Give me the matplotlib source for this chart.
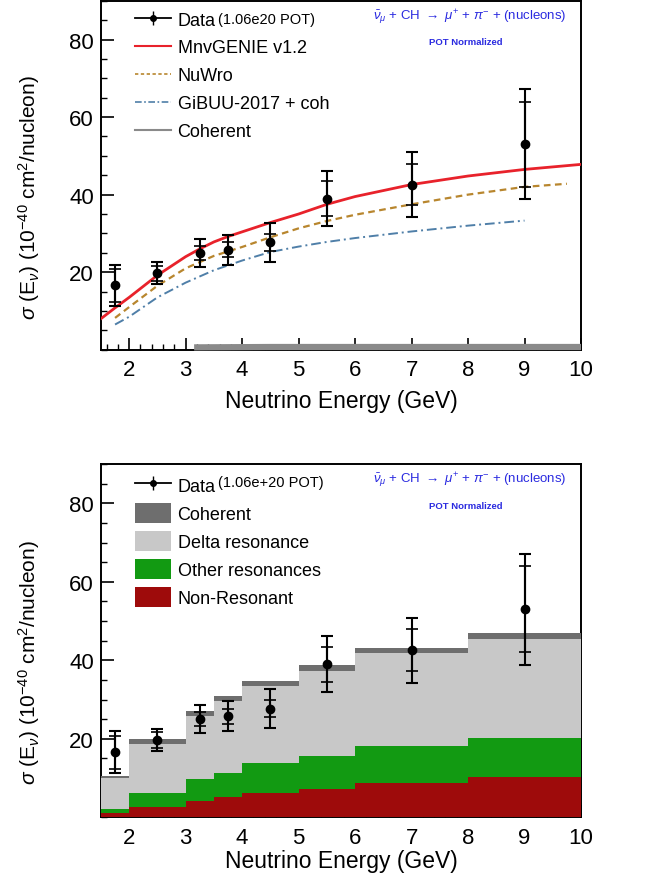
import numpy as np
import matplotlib
matplotlib.use('Agg')
import matplotlib.pyplot as plt
from matplotlib.lines import Line2D
from matplotlib.patches import Patch
from matplotlib.ticker import MultipleLocator

plt.rcParams['font.family'] = ['Liberation Sans', 'DejaVu Sans']
plt.rcParams['mathtext.fontset'] = 'custom'
plt.rcParams['mathtext.rm'] = 'Liberation Sans'
plt.rcParams['mathtext.it'] = 'Liberation Sans:italic'
plt.rcParams['mathtext.bf'] = 'Liberation Sans:bold'

# data points (both panels)
data_x = [1.75, 2.5, 3.25, 3.75, 4.5, 5.5, 7.0, 9.0]
data_y = [16.6, 19.7, 25.0, 25.8, 27.7, 39.0, 42.6, 53.0]
err_tot = [5.3, 2.8, 3.6, 3.9, 5.0, 7.2, 8.3, 14.2]
err_stat = [4.2, 2.0, 1.8, 1.9, 2.2, 4.5, 5.3, 11.0]

# model curves (top panel)
genie_x = [1.5, 1.75, 2.0, 2.5, 3.0, 3.25, 3.5, 3.75, 4.0, 4.5, 5.0, 5.5, 6.0, 7.0, 8.0, 9.0, 10.0]
genie_y = [8.0, 10.8, 13.5, 19.2, 24.0, 26.0, 27.8, 29.2, 30.4, 32.8, 35.0, 37.5, 39.5, 42.6, 44.8, 46.5, 47.8]
nuwro_x = [1.75, 2.0, 2.5, 3.0, 3.5, 4.0, 4.5, 5.0, 5.5, 6.0, 7.0, 8.0, 9.0, 9.75]
nuwro_y = [8.2, 11.0, 16.5, 21.0, 24.2, 26.5, 29.0, 31.3, 33.2, 34.8, 37.5, 40.0, 42.0, 42.8]
gibuu_x = [1.75, 2.0, 2.5, 3.0, 3.5, 4.0, 4.5, 5.0, 5.5, 6.0, 7.0, 8.0, 9.0]
gibuu_y = [6.5, 8.5, 13.5, 17.3, 20.5, 23.0, 25.2, 26.6, 27.8, 28.8, 30.5, 32.0, 33.3]
coh_x = [3.15, 4.5, 5.5, 7.0, 9.0, 10.0]
coh_y = [0.6, 0.7, 0.7, 0.7, 0.7, 0.7]

# stacked histogram (bottom panel)
edges = [1.5, 2, 3, 3.5, 4, 5, 6, 8, 10]
nonres = [1.0, 2.7, 4.2, 5.2, 6.3, 7.2, 8.7, 10.2]
other_res = [1.2, 3.6, 5.5, 6.0, 7.5, 8.5, 9.4, 10.0]
delta_res = [7.7, 12.3, 16.1, 18.4, 19.7, 21.6, 23.7, 25.3]
coherent = [0.7, 1.4, 1.2, 1.2, 1.3, 1.5, 1.4, 1.4]

c_genie = '#e8222b'
c_nuwro = '#b8862e'
c_gibuu = '#4f7fa8'
c_coh_line = '#8a8a8a'
c_coh = '#6e6e6e'
c_delta = '#c8c8c8'
c_other = '#129a12'
c_nonres = '#9e0b0b'
c_blue = '#2a2ae0'

title_txt = r'$\bar{\nu}_{\mu}$ + CH $\rightarrow$ $\mu^{+}$ + $\pi^{-}$ + (nucleons)'
ylab = r'$\sigma$ (E$_{\nu}$) (10$^{-40}$ cm$^{2}$/nucleon)'

fig = plt.figure(figsize=(6.47, 8.79), dpi=100)
ax1 = fig.add_axes([0.156, 0.601, 0.742, 0.397])
ax2 = fig.add_axes([0.156, 0.069, 0.742, 0.402])


def style_axis(ax, xpad):
    ax.set_xlim(1.5, 10)
    ax.set_ylim(0, 90)
    ax.yaxis.set_major_locator(MultipleLocator(20))
    ax.yaxis.set_minor_locator(MultipleLocator(5))
    ax.xaxis.set_major_locator(MultipleLocator(1))
    ax.xaxis.set_minor_locator(MultipleLocator(0.2))
    ax.tick_params(which='both', direction='in', top=False, right=False, labelsize=16)
    ax.tick_params(which='major', length=9, width=1.2)
    ax.tick_params(which='minor', length=4.5, width=1.0)
    ax.tick_params(axis='x', pad=7)
    ax.tick_params(axis='y', pad=5)
    ax.set_yticks([20, 40, 60, 80])
    for s in ax.spines.values():
        s.set_linewidth(1.4)
    ax.set_xlabel('Neutrino Energy (GeV)', fontsize=16.5, labelpad=xpad)
    ax.set_ylabel(ylab, fontsize=15)
    ax.yaxis.set_label_coords(-0.123, 0.44)


def draw_data(ax):
    ax.errorbar(data_x, data_y, yerr=err_tot, fmt='o', color='black', ms=6,
                capsize=4, elinewidth=1.5, capthick=1.5, zorder=6)
    ax.errorbar(data_x, data_y, yerr=err_stat, fmt='none', ecolor='black',
                capsize=4, elinewidth=1.5, capthick=1.2, zorder=6)


def add_texts(ax, pot):
    ax.text(0.243, 0.948, pot, transform=ax.transAxes, fontsize=10.5,
            va='center', ha='left')
    ax.text(0.97, 0.955, title_txt, transform=ax.transAxes, fontsize=9.5,
            color=c_blue, ha='right', va='center')
    ax.text(0.76, 0.882, 'POT Normalized', transform=ax.transAxes, fontsize=6.8,
            color=c_blue, ha='center', va='center', fontweight='bold')


data_handle = (Line2D([], [], color='black', lw=1.3),
               Line2D([], [], color='black', marker='o', ms=4, ls='none'),
               Line2D([], [], color='black', marker='|', ms=10, ls='none'))

# ---- top panel ----
style_axis(ax1, 6)
ax1.plot(genie_x, genie_y, color=c_genie, lw=2.0, zorder=4)
ax1.plot(nuwro_x, nuwro_y, color=c_nuwro, lw=1.6, ls=(0, (3, 2)), zorder=4)
ax1.plot(gibuu_x, gibuu_y, color=c_gibuu, lw=1.4, ls=(0, (5, 2, 1, 2)), zorder=4)
ax1.plot(coh_x, coh_y, color=c_coh_line, lw=4.5, solid_capstyle='butt', zorder=3,
         clip_on=False)
draw_data(ax1)

h1 = [data_handle,
      Line2D([], [], color=c_genie, lw=1.5),
      Line2D([], [], color=c_nuwro, lw=1.2, ls=(0, (2, 1.5))),
      Line2D([], [], color=c_gibuu, lw=1.2, ls=(0, (4, 1.5, 1, 1.5))),
      Line2D([], [], color=c_coh_line, lw=1.5)]
l1 = ['Data', 'MnvGENIE v1.2', 'NuWro', 'GiBUU-2017 + coh', 'Coherent']
ax1.legend(h1, l1, loc='upper left', bbox_to_anchor=(0.045, 1.005), frameon=False,
           fontsize=13, handlelength=2.0, handletextpad=0.35, labelspacing=0.6,
           borderaxespad=0.3)
add_texts(ax1, '(1.06e20 POT)')

# ---- bottom panel ----
style_axis(ax2, 1)
layers = [(nonres, c_nonres), (other_res, c_other), (delta_res, c_delta), (coherent, c_coh)]
base = np.zeros(len(nonres))
for vals, col in layers:
    top = base + np.array(vals)
    ax2.stairs(top, edges, baseline=base, fill=True, color=col, lw=0, zorder=3)
    base = top
draw_data(ax2)

h2 = [data_handle,
      Patch(facecolor=c_coh), Patch(facecolor=c_delta),
      Patch(facecolor=c_other), Patch(facecolor=c_nonres)]
l2 = ['Data', 'Coherent', 'Delta resonance', 'Other resonances', 'Non-Resonant']
ax2.legend(h2, l2, loc='upper left', bbox_to_anchor=(0.045, 1.005), frameon=False,
           fontsize=13, handlelength=2.0, handleheight=1.3, handletextpad=0.35,
           labelspacing=0.45, borderaxespad=0.3)
add_texts(ax2, '(1.06e+20 POT)')

fig.savefig('out.png', dpi=100)
